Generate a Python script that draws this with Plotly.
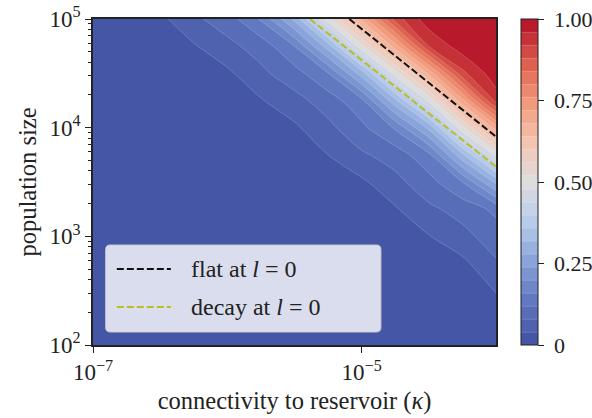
import math
import plotly.graph_objects as go

# grid exponents (log10) of connectivity kappa and population size N
log_kappa = [-7.0, -6.75, -6.5, -6.25, -6.0, -5.75, -5.5, -5.25, -5.0, -4.75, -4.5, -4.25, -4.0]
log_N = [2.0, 2.25, 2.5, 2.75, 3.0, 3.25, 3.5, 3.75, 4.0, 4.25, 4.5, 4.75, 5.0]

# values, rows = population size (low -> high), cols = kappa (low -> high)
z = [
    [0, 0, 0, 0, 0, 0, 0, 0, 0, 0, 0, 0.002, 0.005],
    [0, 0, 0, 0, 0, 0, 0, 0, 0, 0, 0.001, 0.006, 0.02],
    [0, 0, 0, 0, 0, 0, 0, 0, 0, 0.001, 0.004, 0.018, 0.042],
    [0, 0, 0, 0, 0, 0, 0, 0, 0.001, 0.005, 0.014, 0.03, 0.075],
    [0, 0, 0, 0, 0, 0, 0, 0.001, 0.004, 0.016, 0.038, 0.068, 0.10],
    [0, 0, 0, 0, 0, 0, 0.001, 0.005, 0.012, 0.036, 0.072, 0.095, 0.13],
    [0, 0, 0, 0, 0, 0.001, 0.004, 0.017, 0.033, 0.068, 0.105, 0.16, 0.29],
    [0, 0, 0, 0, 0.001, 0.003, 0.014, 0.04, 0.074, 0.098, 0.15, 0.31, 0.49],
    [0, 0, 0, 0.001, 0.005, 0.016, 0.033, 0.07, 0.11, 0.165, 0.29, 0.51, 0.70],
    [0, 0, 0.001, 0.004, 0.013, 0.037, 0.066, 0.10, 0.15, 0.31, 0.49, 0.71, 0.94],
    [0, 0.001, 0.004, 0.016, 0.032, 0.071, 0.104, 0.158, 0.30, 0.50, 0.69, 0.91, 0.985],
    [0.001, 0.005, 0.015, 0.036, 0.069, 0.097, 0.16, 0.30, 0.51, 0.70, 0.92, 0.983, 0.997],
    [0.004, 0.014, 0.03, 0.072, 0.10, 0.165, 0.29, 0.50, 0.69, 0.90, 0.985, 0.997, 1.0],
]

# dashed reference lines (log10 kappa, log10 N)
flat_log_kappa = [-5.092, -4.0]
flat_log_N = [5.0, 3.917]
decay_log_kappa = [-5.385, -4.0]
decay_log_N = [5.0, 3.641]

x_tick_vals = [-7, -5]
x_tick_text = ["10<sup>−7</sup>", "10<sup>−5</sup>"]
y_tick_vals = [2, 3, 4, 5]
y_tick_text = ["10<sup>2</sup>", "10<sup>3</sup>", "10<sup>4</sup>", "10<sup>5</sup>"]
cb_tick_vals = [0, 0.25, 0.5, 0.75, 1.0]
cb_tick_text = ["0", "0.25", "0.50", "0.75", "1.00"]
y_minor = [math.log10(m) + d for d in (2, 3, 4) for m in range(2, 10)]

legend_labels = ["flat at <i>l</i> = 0", "decay at <i>l</i> = 0"]
legend_colors = ["#111111", "#bcbd22"]

colorscale = [
    [0.0, "rgb(70,86,166)"],
    [0.14, "rgb(100,125,195)"],
    [0.26, "rgb(140,168,220)"],
    [0.38, "rgb(186,205,236)"],
    [0.5, "rgb(221,221,221)"],
    [0.62, "rgb(243,198,178)"],
    [0.74, "rgb(243,158,128)"],
    [0.86, "rgb(226,106,83)"],
    [1.0, "rgb(184,26,44)"],
]

FONT = "Liberation Serif, Times New Roman, Times, serif"
INK = "#222222"
DASH = "7px,3px"

fig = go.Figure()
fig.add_trace(go.Contour(
    x=log_kappa, y=log_N, z=z,
    colorscale=colorscale, zmin=0, zmax=1,
    autocontour=False,
    contours=dict(start=0.04, end=0.96, size=0.04, coloring="fill"),
    line=dict(width=0.6, color="rgba(255,255,255,0.3)"),
    showlegend=False, hoverinfo="skip",
    colorbar=dict(
        x=1.061, xanchor="left", xpad=0, ypad=0,
        y=0.5, yanchor="middle", len=1, lenmode="fraction",
        thickness=17, outlinewidth=1, outlinecolor=INK,
        ticks="outside", ticklen=6, tickwidth=1.2, tickcolor=INK,
        tickvals=cb_tick_vals, ticktext=["\u00a0" + t for t in cb_tick_text],
        tickfont=dict(family=FONT, size=22, color=INK),
    ),
))
fig.add_trace(go.Scatter(
    x=flat_log_kappa, y=flat_log_N, mode="lines",
    line=dict(color=legend_colors[0], width=2, dash=DASH),
    name=legend_labels[0], showlegend=False, hoverinfo="skip",
))
fig.add_trace(go.Scatter(
    x=decay_log_kappa, y=decay_log_N, mode="lines",
    line=dict(color=legend_colors[1], width=2, dash=DASH),
    name=legend_labels[1], showlegend=False, hoverinfo="skip",
))

axis_common = dict(
    showgrid=False, zeroline=False, showline=True, mirror=True,
    linecolor=INK, linewidth=1.5, ticks="outside", ticklen=6,
    tickwidth=1.3, tickcolor=INK,
    tickfont=dict(family=FONT, size=23, color=INK),
)
fig.update_xaxes(
    range=[-7, -4], tickmode="array", tickvals=x_tick_vals, ticktext=x_tick_text,
    title=dict(text="connectivity to reservoir (<i>κ</i>)", font=dict(family=FONT, size=24.5, color=INK), standoff=8),
    **axis_common,
)
fig.update_yaxes(
    range=[2, 5], tickmode="array", tickvals=y_tick_vals, ticktext=y_tick_text,
    minor=dict(tickvals=y_minor, ticks="outside", ticklen=3.5, tickwidth=1, tickcolor=INK),
    title=dict(text="population size", font=dict(family=FONT, size=24.5, color=INK), standoff=6),
    **axis_common,
)

# legend box drawn in plot-area (paper) coordinates, matplotlib style
x0, x1, y0, y1 = 0.0315, 0.7144, 0.0399, 0.3067
rx, ry = 0.011, 0.0135
box_path = (
    f"M{x0+rx},{y0} L{x1-rx},{y0} Q{x1},{y0} {x1},{y0+ry} "
    f"L{x1},{y1-ry} Q{x1},{y1} {x1-rx},{y1} "
    f"L{x0+rx},{y1} Q{x0},{y1} {x0},{y1-ry} "
    f"L{x0},{y0+ry} Q{x0},{y0} {x0+rx},{y0} Z"
)
shapes = [dict(type="path", xref="paper", yref="paper", path=box_path,
               fillcolor="rgba(255,255,255,0.8)", line=dict(color="#cccccc", width=1), layer="above")]
annotations = []
row_y = [0.2331, 0.1166]
for label, color, ry_ in zip(legend_labels, legend_colors, row_y):
    shapes.append(dict(type="line", xref="paper", yref="paper", x0=0.0591, x1=0.1932, y0=ry_, y1=ry_,
                       line=dict(color=color, width=2, dash=DASH), layer="above"))
    annotations.append(dict(xref="paper", yref="paper", x=0.2377, y=ry_, xanchor="left", yanchor="middle",
                            text=label, showarrow=False, font=dict(family=FONT, size=24, color=INK)))

fig.update_layout(
    width=592, height=418,
    margin=dict(l=93, r=96, t=19, b=73, autoexpand=False),
    paper_bgcolor="white", plot_bgcolor="white",
    font=dict(family=FONT, size=23, color=INK),
    showlegend=False,
    shapes=shapes, annotations=annotations,
)
fig.write_html("out.html")
